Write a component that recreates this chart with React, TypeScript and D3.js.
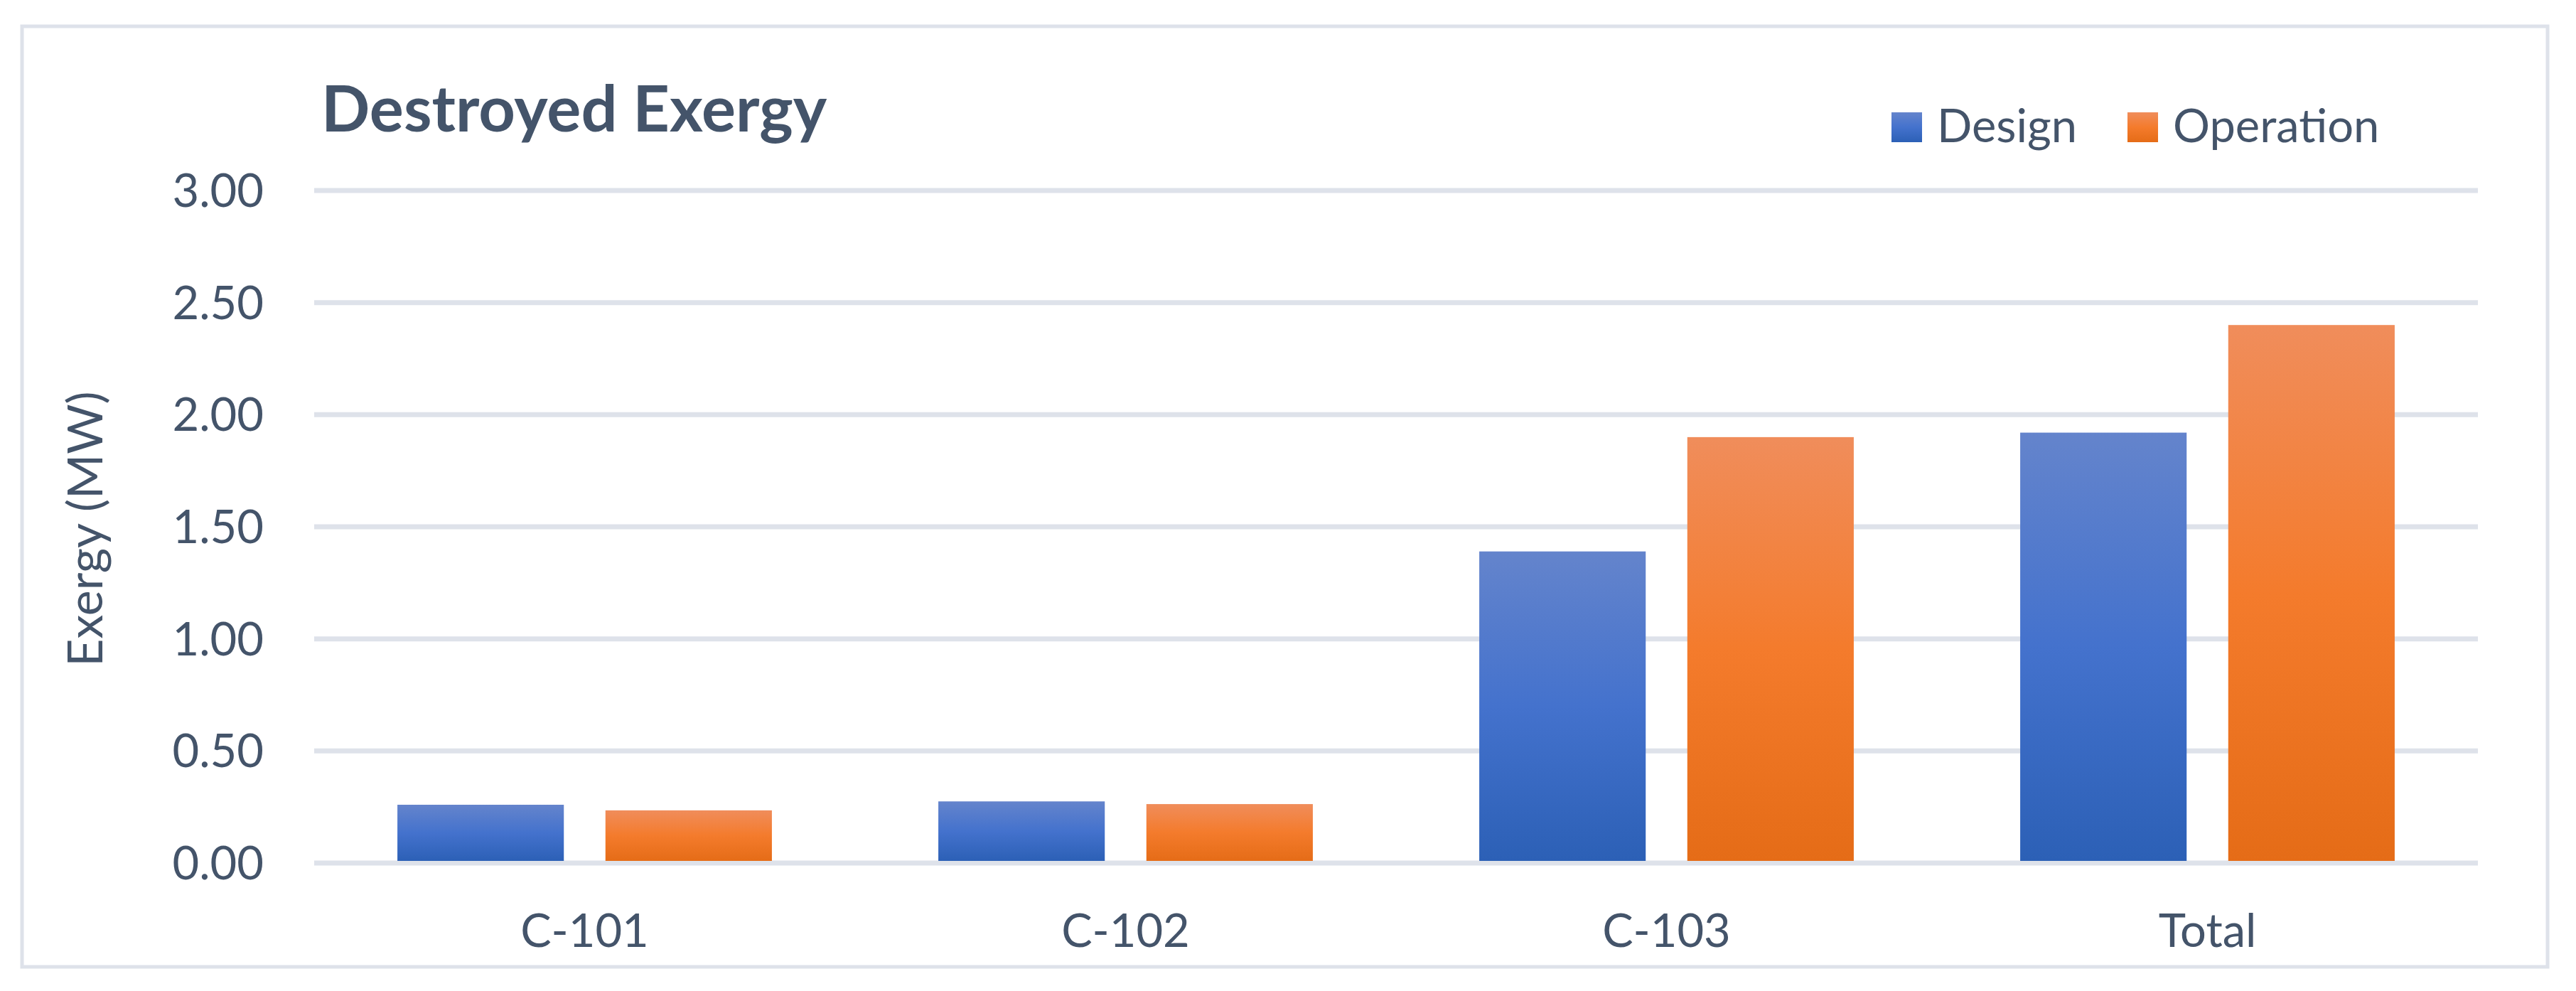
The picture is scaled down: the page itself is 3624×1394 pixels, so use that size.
import React, { useEffect, useRef } from 'react';
import * as d3 from 'd3';

const categories = ['C-101', 'C-102', 'C-103', 'Total'];
const seriesNames = ['Design', 'Operation'];
const designValues = [0.26, 0.275, 1.39, 1.92];
const operationValues = [0.235, 0.263, 1.90, 2.40];
const yTicks = [0, 0.5, 1, 1.5, 2, 2.5, 3];

const width = 3624;
const height = 1394;
const margin = { top: 268, right: 138, bottom: 180, left: 442 };

const textColor = '#44546a';
const gridColor = '#dee2ea';
const font = 'Lato, "Noto Sans", sans-serif';

const gradients = [
  { id: 'gradDesign', stops: ['#6484cc', '#4472cd', '#2c60b6'] },
  { id: 'gradOperation', stops: ['#f08d5b', '#f47b2c', '#e56c17'] },
];

const App = () => {

  const chartRef = useRef(null);

  useEffect(() => {
    const svg = d3.select(chartRef.current);
    svg.selectAll('*').remove();
    plotFrame(svg);
    plotAxis(svg);
    plotChart(svg);
    plotLegend(svg);
  });

  const data = categories.map((name, i) => ({ name, Design: designValues[i], Operation: operationValues[i] }));

  const xScale = d3.scaleBand()
                  .domain(categories)
                  .range([margin.left, width - margin.right]);

  const xInner = d3.scaleBand()
                  .domain(seriesNames)
                  .range([0, xScale.bandwidth()])
                  .paddingInner(0.2)
                  .paddingOuter(0.4);

  const yScale = d3.scaleLinear()
                  .domain([0, 3])
                  .range([height - margin.bottom, margin.top]);

  const plotFrame = (svg) => {
    const defs = svg.append('defs');
    gradients.forEach(g => {
      const lg = defs.append('linearGradient')
        .attr('id', g.id)
        .attr('x1', 0).attr('y1', 0).attr('x2', 0).attr('y2', 1);
      g.stops.forEach((c, i) => lg.append('stop')
        .attr('offset', `${i * 50}%`)
        .attr('stop-color', c));
    });

    svg.append('rect')
      .attr('x', 0).attr('y', 0)
      .attr('width', width).attr('height', height)
      .attr('fill', '#fff');

    svg.append('rect')
      .attr('x', 31).attr('y', 37)
      .attr('width', 3553).attr('height', 1323)
      .attr('fill', 'none')
      .attr('stroke', gridColor)
      .attr('stroke-width', 5);

    svg.append('text')
      .attr('x', 452)
      .attr('y', 185)
      .attr('fill', textColor)
      .attr('font-family', font)
      .attr('font-weight', 'bold')
      .attr('font-size', 90)
      .text('Destroyed Exergy');
  };

  const plotAxis = (svg) => {
    const grid = svg.append('g');
    grid.selectAll('line')
      .data(yTicks)
      .join('line')
      .attr('x1', margin.left)
      .attr('x2', width - margin.right)
      .attr('y1', d => yScale(d))
      .attr('y2', d => yScale(d))
      .attr('stroke', gridColor)
      .attr('stroke-width', 7);

    svg.append('g')
      .selectAll('text')
      .data(yTicks)
      .join('text')
      .attr('x', 371)
      .attr('y', d => yScale(d) + 23)
      .attr('text-anchor', 'end')
      .attr('fill', textColor)
      .attr('font-family', font)
      .attr('font-size', 65)
      .text(d => d3.format('.2f')(d));

    svg.append('g')
      .selectAll('text')
      .data(categories)
      .join('text')
      .attr('x', d => xScale(d) + xScale.bandwidth() / 2)
      .attr('y', 1332)
      .attr('text-anchor', 'middle')
      .attr('fill', textColor)
      .attr('font-family', font)
      .attr('font-size', 65)
      .text(d => d);

    svg.append('text')
      .attr('transform', `translate(144, ${(yScale(0) + yScale(3)) / 2 + 3}) rotate(-90)`)
      .attr('text-anchor', 'middle')
      .attr('fill', textColor)
      .attr('font-family', font)
      .attr('font-size', 68)
      .text('Exergy (MW)');
  };

  const plotChart = (svg) => {
    svg.append('g')
      .selectAll('g')
      .data(data)
      .join('g')
      .attr('transform', d => `translate(${xScale(d.name)}, 0)`)
      .selectAll('rect')
      .data(d => seriesNames.map((key, i) => ({ key, value: d[key], grad: gradients[i].id })))
      .join('rect')
      .attr('x', d => xInner(d.key))
      .attr('y', d => yScale(d.value))
      .attr('width', xInner.bandwidth())
      .attr('height', d => yScale(0) - 3 - yScale(d.value))
      .attr('fill', d => `url(#${d.grad})`);
  };

  const plotLegend = (svg) => {
    const items = [
      { name: 'Design', x: 2661, grad: 'gradDesign' },
      { name: 'Operation', x: 2993, grad: 'gradOperation' },
    ];
    const g = svg.append('g')
      .selectAll('g')
      .data(items)
      .join('g')
      .attr('transform', d => `translate(${d.x}, 0)`);
    g.append('rect')
      .attr('x', 0).attr('y', 158)
      .attr('width', 43).attr('height', 42)
      .attr('fill', d => `url(#${d.grad})`);
    g.append('text')
      .attr('x', 64)
      .attr('y', 200)
      .attr('fill', textColor)
      .attr('font-family', font)
      .attr('font-size', 65)
      .text(d => d.name);
  };

  return (
    <svg
      viewBox={`0 0 ${width} ${height}`}
      width={width}
      height={height}
      ref={chartRef}
      style={{ position: 'absolute', left: 0, top: 0, display: 'block' }}
    />
  );
};

export default App;
